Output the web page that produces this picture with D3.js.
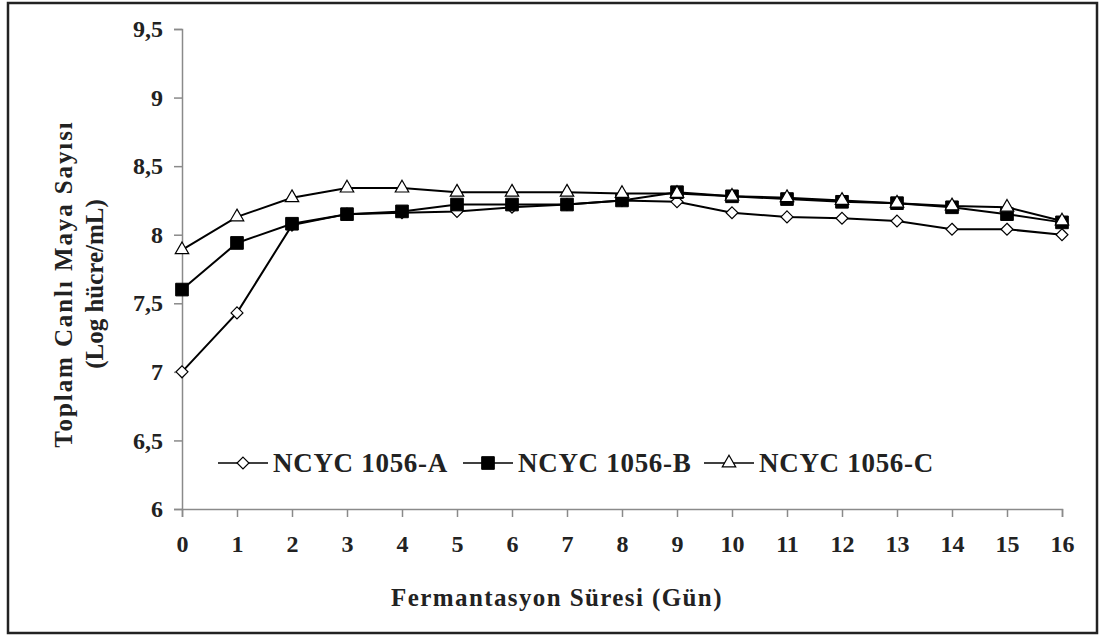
<!DOCTYPE html>
<html><head><meta charset="utf-8">
<script src="https://cdn.jsdelivr.net/npm/d3@7"></script>
<style>body{margin:0;background:#fff}</style>
</head><body>
<svg id="c" width="1099" height="637"></svg>
<script>
const days = [0,1,2,3,4,5,6,7,8,9,10,11,12,13,14,15,16];
const seriesNames = ["NCYC 1056-A","NCYC 1056-B","NCYC 1056-C"];
const valuesA = [7.00,7.43,8.07,8.15,8.16,8.17,8.20,8.22,8.25,8.24,8.16,8.13,8.12,8.10,8.04,8.04,8.00];
const valuesB = [7.60,7.94,8.08,8.15,8.17,8.22,8.22,8.22,8.25,8.31,8.28,8.26,8.24,8.23,8.20,8.15,8.09];
const valuesC = [7.89,8.13,8.27,8.34,8.34,8.31,8.31,8.31,8.30,8.30,8.28,8.27,8.25,8.23,8.21,8.20,8.10];
const yTicks = [6,6.5,7,7.5,8,8.5,9,9.5];
const yTitle = ["Toplam Canlı Maya Sayısı","(Log hücre/mL)"];
const xTitle = "Fermantasyon Süresi (Gün)";

const svg = d3.select("#c");
const font = "'Liberation Serif','Times New Roman',serif";
const x = d3.scaleLinear().domain([0,16]).range([182,1062]);
const y = d3.scaleLinear().domain([6,9.5]).range([509,29]);

// border
svg.append("rect").attr("x",8).attr("y",3).attr("width",1089).attr("height",630)
  .attr("fill","none").attr("stroke","#222").attr("stroke-width",2.5);

const fmt = d => String(d).replace(".",",");
const ya = svg.append("g").attr("transform","translate(182,0)")
  .call(d3.axisLeft(y).tickValues(yTicks).tickFormat(fmt).tickSize(8).tickPadding(11));
const xa = svg.append("g").attr("transform","translate(0,509)")
  .call(d3.axisBottom(x).tickValues(days).tickFormat(d3.format("d")).tickSize(8).tickPadding(18));
[ya,xa].forEach(a=>{
  a.selectAll("path,line").attr("stroke","#8a8a8a").attr("stroke-width",1.5);
  a.selectAll("text").attr("font-family",font).attr("font-weight","bold")
    .attr("font-size",24).attr("fill","#222");
});

// titles
const yt = svg.append("text").attr("transform","translate(72,284) rotate(-90)")
  .attr("text-anchor","middle").attr("font-family",font).attr("font-weight","bold")
  .attr("font-size",25).attr("fill","#222");
yTitle.forEach((t,i)=>yt.append("tspan").attr("x",0).attr("dy",i?31:0)
  .attr("letter-spacing",i?0:1.9).text(t));
svg.append("text").attr("x",557).attr("y",606).attr("text-anchor","middle")
  .attr("font-family",font).attr("font-weight","bold").attr("font-size",25)
  .attr("letter-spacing",1.4).attr("fill","#222").text(xTitle);

const data = [valuesA,valuesB,valuesC];
const line = d3.line().x((d,i)=>x(days[i])).y(d=>y(d));
const symbols = [d3.symbolDiamond2, d3.symbolSquare, d3.symbolTriangle2];
const symSize = [90,160,130];
const fills = ["#fff","#000","#fff"];

function marker(g,k,cx,cy){
  g.append("path").attr("d",d3.symbol().type(symbols[k]).size(symSize[k])())
    .attr("transform",`translate(${cx},${cy})`)
    .attr("fill",fills[k]).attr("stroke","#000").attr("stroke-width",k==1?1:1.2);
}

data.forEach((vals,k)=>{
  svg.append("path").datum(vals).attr("d",line).attr("fill","none")
    .attr("stroke","#000").attr("stroke-width",2);
});
data.forEach((vals,k)=>{
  const g = svg.append("g");
  vals.forEach((v,i)=>marker(g,k,x(days[i]),y(v)));
});

// legend
const legX = [218,463,704];
const legY = 463;
seriesNames.forEach((n,k)=>{
  const g = svg.append("g");
  g.append("line").attr("x1",legX[k]).attr("x2",legX[k]+50).attr("y1",legY).attr("y2",legY)
    .attr("stroke","#000").attr("stroke-width",1.5);
  marker(g,k,legX[k]+25,legY);
  g.append("text").attr("x",legX[k]+55).attr("y",legY+9).attr("font-family",font)
    .attr("font-weight","bold").attr("font-size",27).attr("letter-spacing",0.7)
    .attr("fill","#222").text(n);
});
</script>
</body></html>
